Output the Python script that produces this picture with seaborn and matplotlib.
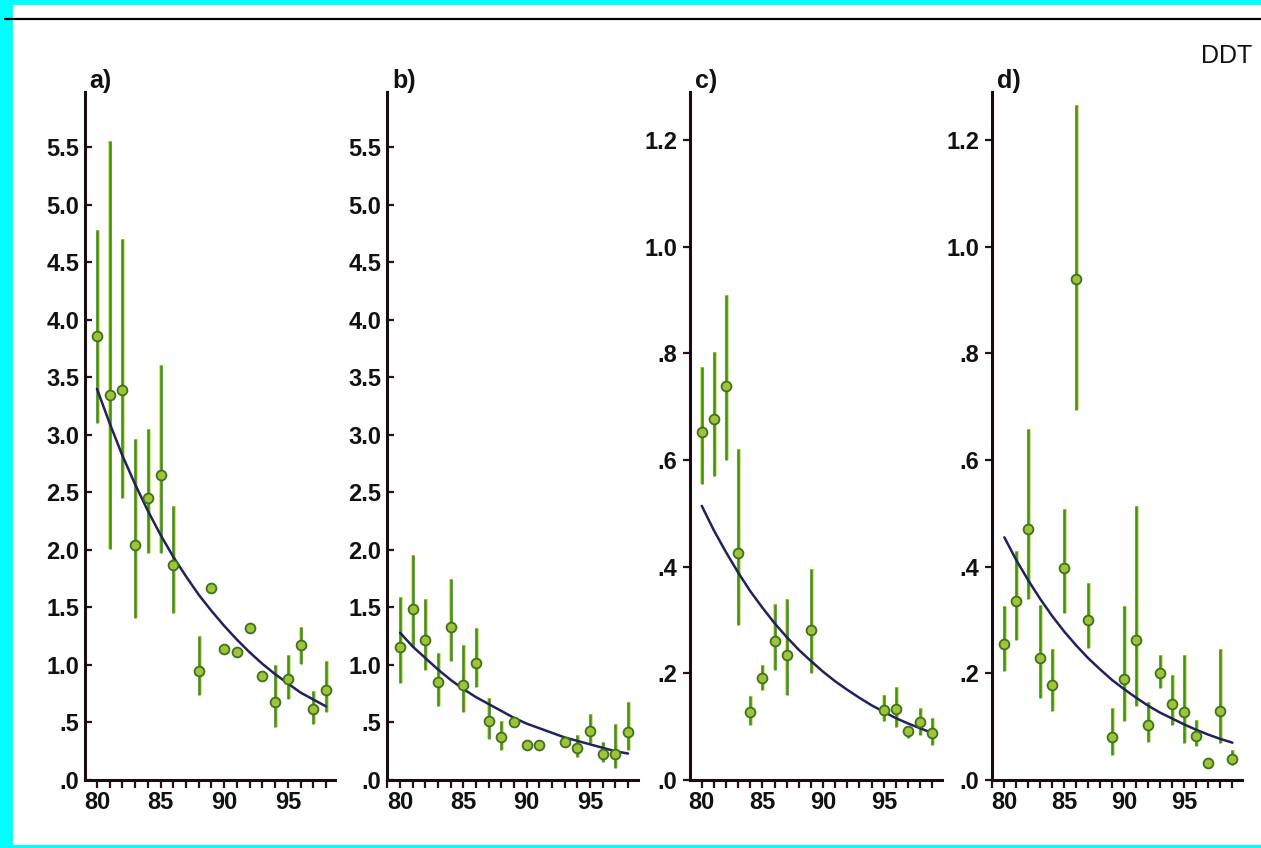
import numpy as np
import pandas as pd
import seaborn as sns
import matplotlib.pyplot as plt
from matplotlib.lines import Line2D
from matplotlib.patches import Rectangle
from matplotlib.ticker import FixedLocator, MultipleLocator

nan = np.nan

# ---- panel a ----
years_a = [80, 81, 82, 83, 84, 85, 86, 88, 89, 90, 91, 92, 93, 94, 95, 96, 97, 98]
ddt_a = [3.86, 3.35, 3.39, 2.04, 2.45, 2.65, 1.87, 0.95, 1.67, 1.14, 1.11, 1.32, 0.90, 0.68, 0.88, 1.17, 0.62, 0.78]
low_a = [3.10, 2.01, 2.45, 1.41, 1.97, 1.97, 1.45, 0.74, nan, nan, nan, nan, nan, 0.46, 0.70, 1.01, 0.49, 0.59]
high_a = [4.78, 5.55, 4.70, 2.96, 3.05, 3.61, 2.38, 1.25, nan, nan, nan, nan, nan, 1.00, 1.09, 1.33, 0.77, 1.03]
fit_years_a = [80, 81, 82, 83, 84, 85, 86, 87, 88, 89, 90, 91, 92, 93, 94, 95, 96, 97, 98]
fit_a = [3.40, 3.10, 2.82, 2.57, 2.34, 2.13, 1.94, 1.77, 1.61, 1.47, 1.34, 1.22, 1.11, 1.01, 0.92, 0.84, 0.76, 0.70, 0.64]

# ---- panel b ----
years_b = [80, 81, 82, 83, 84, 85, 86, 87, 88, 89, 90, 91, 93, 94, 95, 96, 97, 98]
ddt_b = [1.16, 1.49, 1.22, 0.85, 1.33, 0.83, 1.02, 0.51, 0.37, 0.50, 0.30, 0.30, 0.33, 0.28, 0.43, 0.23, 0.23, 0.42]
low_b = [0.84, 1.16, 0.96, 0.64, 1.03, 0.59, 0.81, 0.36, 0.26, nan, nan, nan, nan, 0.20, 0.32, 0.16, 0.10, 0.26]
high_b = [1.59, 1.96, 1.57, 1.10, 1.75, 1.17, 1.32, 0.71, 0.51, nan, nan, nan, nan, 0.39, 0.57, 0.33, 0.49, 0.68]
fit_years_b = [80, 81, 82, 83, 84, 85, 86, 87, 88, 89, 90, 91, 92, 93, 94, 95, 96, 97, 98]
fit_b = [1.28, 1.16, 1.06, 0.96, 0.87, 0.79, 0.72, 0.66, 0.60, 0.54, 0.49, 0.45, 0.41, 0.37, 0.34, 0.31, 0.28, 0.25, 0.23]

# ---- panel c ----
years_c = [80, 81, 82, 83, 84, 85, 86, 87, 89, 95, 96, 97, 98, 99]
ddt_c = [0.653, 0.676, 0.738, 0.426, 0.127, 0.191, 0.260, 0.234, 0.282, 0.132, 0.133, 0.091, 0.108, 0.088]
low_c = [0.555, 0.570, 0.600, 0.290, 0.103, 0.169, 0.207, 0.160, 0.200, 0.110, 0.100, 0.078, 0.085, 0.066]
high_c = [0.775, 0.803, 0.909, 0.620, 0.157, 0.216, 0.330, 0.340, 0.396, 0.160, 0.175, 0.100, 0.135, 0.116]
fit_years_c = [80, 81, 82, 83, 84, 85, 86, 87, 88, 89, 90, 91, 92, 93, 94, 95, 96, 97, 98, 99]
fit_c = [0.514, 0.468, 0.427, 0.389, 0.354, 0.323, 0.294, 0.268, 0.244, 0.223,
         0.203, 0.185, 0.169, 0.154, 0.140, 0.128, 0.116, 0.106, 0.097, 0.088]

# ---- panel d ----
years_d = [80, 81, 82, 83, 84, 85, 86, 87, 89, 90, 91, 92, 93, 94, 95, 96, 97, 98, 99]
ddt_d = [0.255, 0.335, 0.471, 0.229, 0.179, 0.398, 0.939, 0.300, 0.080, 0.189,
         0.262, 0.103, 0.200, 0.143, 0.127, 0.083, 0.031, 0.129, 0.039]
low_d = [0.204, 0.263, 0.339, 0.154, 0.129, 0.313, 0.694, 0.248, 0.047, 0.110,
         0.138, 0.072, 0.172, 0.103, 0.069, 0.063, nan, 0.069, 0.028]
high_d = [0.326, 0.430, 0.658, 0.329, 0.245, 0.508, 1.266, 0.370, 0.135, 0.326,
          0.514, 0.147, 0.235, 0.197, 0.235, 0.113, nan, 0.245, 0.056]
fit_years_d = [80, 81, 82, 83, 84, 85, 86, 87, 88, 89, 90, 91, 92, 93, 94, 95, 96, 97, 98, 99]
fit_d = [0.455, 0.412, 0.374, 0.339, 0.307, 0.278, 0.252, 0.228, 0.207, 0.187,
         0.170, 0.154, 0.139, 0.126, 0.115, 0.104, 0.094, 0.085, 0.077, 0.070]

panel_labels = ["a)", "b)", "c)", "d)"]
x_ticks = [80, 85, 90, 95]
x_ticklabels = ["80", "85", "90", "95"]
y_ticks_ab = [0.0, 0.5, 1.0, 1.5, 2.0, 2.5, 3.0, 3.5, 4.0, 4.5, 5.0, 5.5]
y_ticklabels_ab = [".0", ".5", "1.0", "1.5", "2.0", "2.5", "3.0", "3.5", "4.0", "4.5", "5.0", "5.5"]
y_ticks_cd = [0.0, 0.2, 0.4, 0.6, 0.8, 1.0, 1.2]
y_ticklabels_cd = [".0", ".2", ".4", ".6", ".8", "1.0", "1.2"]
title_text = "DDT"

sns.set_theme(style="white")
plt.rcParams["font.family"] = ["Liberation Sans", "DejaVu Sans"]

W, H = 1261, 848
fig = plt.figure(figsize=(W / 100, H / 100), dpi=100)
fig.patch.set_facecolor("#00ffff")
# white page inside the cyan frame
fig.add_artist(Rectangle((13 / W, 1 - 845 / H), 1 - 13 / W, (845 - 5) / H,
                         transform=fig.transFigure, facecolor="white",
                         edgecolor="none", zorder=0))
# rule across the top of the page
fig.add_artist(Line2D([5 / W, 1.0], [1 - 19 / H, 1 - 19 / H], transform=fig.transFigure,
                      color="black", lw=1.6, zorder=1))

bottom = (H - 780) / H
height = (780 - 92) / H

panels = [
    dict(left=85, right=335, x=years_a, y=ddt_a, lo=low_a, hi=high_a, fx=fit_years_a, fy=fit_a,
         xlim=(79.06, 98.71), ylim=(0, 5.98), yt=y_ticks_ab, ytl=y_ticklabels_ab, ydir="in", lab_x=89),
    dict(left=387, right=638, x=years_b, y=ddt_b, lo=low_b, hi=high_b, fx=fit_years_b, fy=fit_b,
         xlim=(78.97, 98.79), ylim=(0, 5.98), yt=y_ticks_ab, ytl=y_ticklabels_ab, ydir="in", lab_x=392),
    dict(left=690, right=942, x=years_c, y=ddt_c, lo=low_c, hi=high_c, fx=fit_years_c, fy=fit_c,
         xlim=(79.03, 99.8), ylim=(0, 1.29), yt=y_ticks_cd, ytl=y_ticklabels_cd, ydir="out", lab_x=695),
    dict(left=992, right=1242, x=years_d, y=ddt_d, lo=low_d, hi=high_d, fx=fit_years_d, fy=fit_d,
         xlim=(78.97, 99.8), ylim=(0, 1.29), yt=y_ticks_cd, ytl=y_ticklabels_cd, ydir="out", lab_x=997),
]

bar_glow = "#d4dc52"
bar_green = "#3f8f22"
face = "#a3c23c"
edge = "#3a7418"
curve = "#22205e"

for p, lab in zip(panels, panel_labels):
    ax = fig.add_axes([p["left"] / W, bottom, (p["right"] - p["left"]) / W, height])
    ax.set_facecolor("none")
    df = pd.DataFrame({"year": p["x"], "ddt": p["y"], "lo": p["lo"], "hi": p["hi"]})
    bars = df.dropna()
    ax.vlines(bars["year"] + 0.06, bars["lo"], bars["hi"], color=bar_glow, lw=2.6, zorder=2)
    ax.vlines(bars["year"], bars["lo"], bars["hi"], color=bar_green, lw=1.8, zorder=3)
    fit = pd.DataFrame({"year": p["fx"], "ddt": p["fy"]})
    sns.lineplot(data=fit, x="year", y="ddt", ax=ax, color=curve, lw=1.8, zorder=4)
    sns.scatterplot(data=df, x="year", y="ddt", ax=ax, s=50, color=face,
                    edgecolor=edge, linewidth=1.3, zorder=5)

    ax.set_xlim(*p["xlim"])
    ax.set_ylim(*p["ylim"])
    ax.set_xlabel("")
    ax.set_ylabel("")
    sns.despine(ax=ax)
    for side in ("left", "bottom"):
        ax.spines[side].set_color("#1a0d12")
        ax.spines[side].set_linewidth(2.2)

    ax.xaxis.set_major_locator(FixedLocator(x_ticks))
    ax.set_xticklabels(x_ticklabels)
    ax.xaxis.set_minor_locator(MultipleLocator(1))
    ax.tick_params(axis="x", which="both", direction="out", length=6, width=1.6,
                   color="#2a1018", bottom=True)
    ax.tick_params(axis="x", which="major", labelsize=17, pad=2)
    ax.yaxis.set_major_locator(FixedLocator(p["yt"]))
    ax.set_yticklabels(p["ytl"])
    ax.tick_params(axis="y", which="major", direction=p["ydir"], length=5, width=1.6,
                   color="#2a1018", left=True, labelsize=17, pad=4)
    for t in ax.get_xticklabels() + ax.get_yticklabels():
        t.set_fontweight("bold")
        t.set_color("#111111")

    fig.text(p["lab_x"] / W, 1 - 88 / H, lab, fontsize=18, fontweight="bold",
             color="#111111", va="baseline", ha="left")

fig.text(1252 / W, 1 - 63 / H, title_text, fontsize=18, color="#111111",
         va="baseline", ha="right")

fig.savefig("out.png", dpi=100, facecolor=fig.get_facecolor())
